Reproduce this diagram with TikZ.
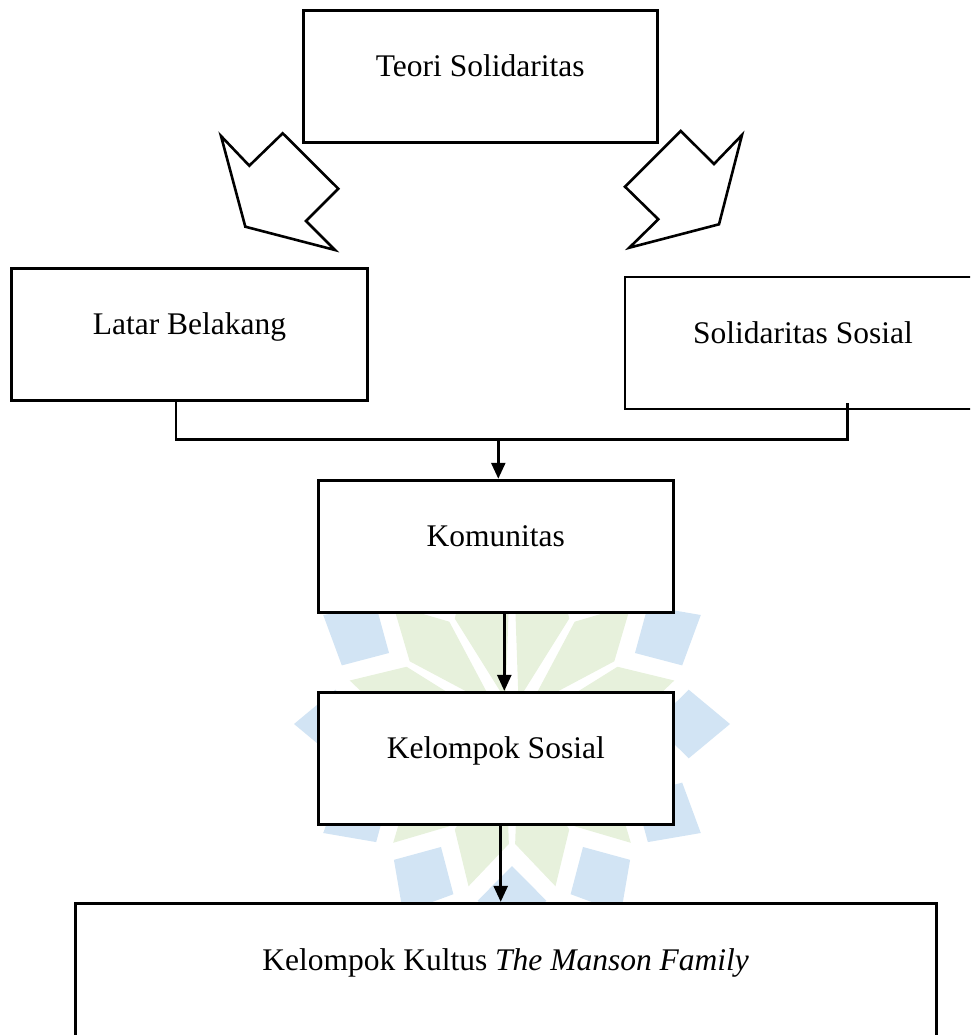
\documentclass[tikz,border=0pt]{standalone}
\usepackage{fontspec}
\setmainfont{Liberation Serif}
\usetikzlibrary{arrows.meta,calc}
\definecolor{wmblue}{RGB}{210,228,244}
\definecolor{wmgreen}{RGB}{231,241,220}
\begin{document}
\begin{tikzpicture}[x=1pt,y=-1pt,
  box/.style={draw,fill=white,line width=2.9pt,inner sep=0pt,minimum height=132pt},
  lbl/.style={anchor=base,font=\fontsize{31.5}{38}\selectfont,inner sep=0pt},
  conn/.style={line width=2.6pt},
  arr/.style={conn,-{Triangle[length=16pt,width=14pt]}},
  notch/.style={line width=2.6pt,line join=miter,fill=white}]
\useasboundingbox (0,0) rectangle (970,1035);
\clip (0,0) rectangle (970,1035);
% faint background watermark
\begin{scope}[shift={(512,724)}]
\foreach \a in {0,30,...,330}{
  \fill[wmgreen] (\a+15:25) -- (\a+1.5:120) -- (\a+15:168) -- (\a+28.5:120) -- cycle;
  \fill[wmblue] (\a:142) -- (\a-11:180) -- (\a:218) -- (\a+11:180) -- cycle;
}
\end{scope}
% boxes
\node[box,minimum width=354pt] (ts) at (480.2,76.7) {};
\node[lbl] at (ts.center) {Teori Solidaritas};
\node[box,minimum width=355.6pt] (lb) at (189.5,334.2) {};
\node[lbl] at (lb.center) {Latar Belakang};
\node[box,minimum width=356pt] (ss) at (803,343) {};
\node[lbl] at (ss.center) {Solidaritas Sosial};
\node[box,minimum width=355pt] (km) at (495.8,546.2) {};
\node[lbl] at (km.center) {Komunitas};
\node[box,minimum width=355pt,minimum height=131.7pt] (ks) at (495.8,758.2) {};
\node[lbl] at (ks.center) {Kelompok Sosial};
\node[box,minimum width=860.7pt,minimum height=134pt] (kk) at (505.7,970.3) {};
\node[lbl] at (kk.center) {Kelompok Kultus \textit{The Manson Family}};
% notched block arrows
\draw[notch] (221,136) -- (249.3,165.7) -- (282.7,133.3) -- (338.3,188.7) -- (306,221) -- (335,250) -- (245.3,226.7) -- cycle;
\draw[notch] (680.7,131) -- (714,164) -- (742,135) -- (719,224.3) -- (629.3,247.7) -- (658.3,219.3) -- (625,186.7) -- cycle;
% connectors
\coordinate (jl) at (176,439.3);
\coordinate (jr) at (847.7,439.3);
\coordinate (jm) at (498.3,439.3);
\coordinate (a1) at (504.3,612);
\coordinate (a2) at (500.7,824);
\draw[conn] (jl |- lb.south) -- (jl) -- (jr) -- ($(jr |- ss.south)+(0,-7.6)$);
\draw[arr] (jm) -- (jm |- km.north);
\draw[arr] (a1 |- km.south) -- (a1 |- ks.north);
\draw[arr] (a2 |- ks.south) -- (a2 |- kk.north);
\end{tikzpicture}
\end{document}
